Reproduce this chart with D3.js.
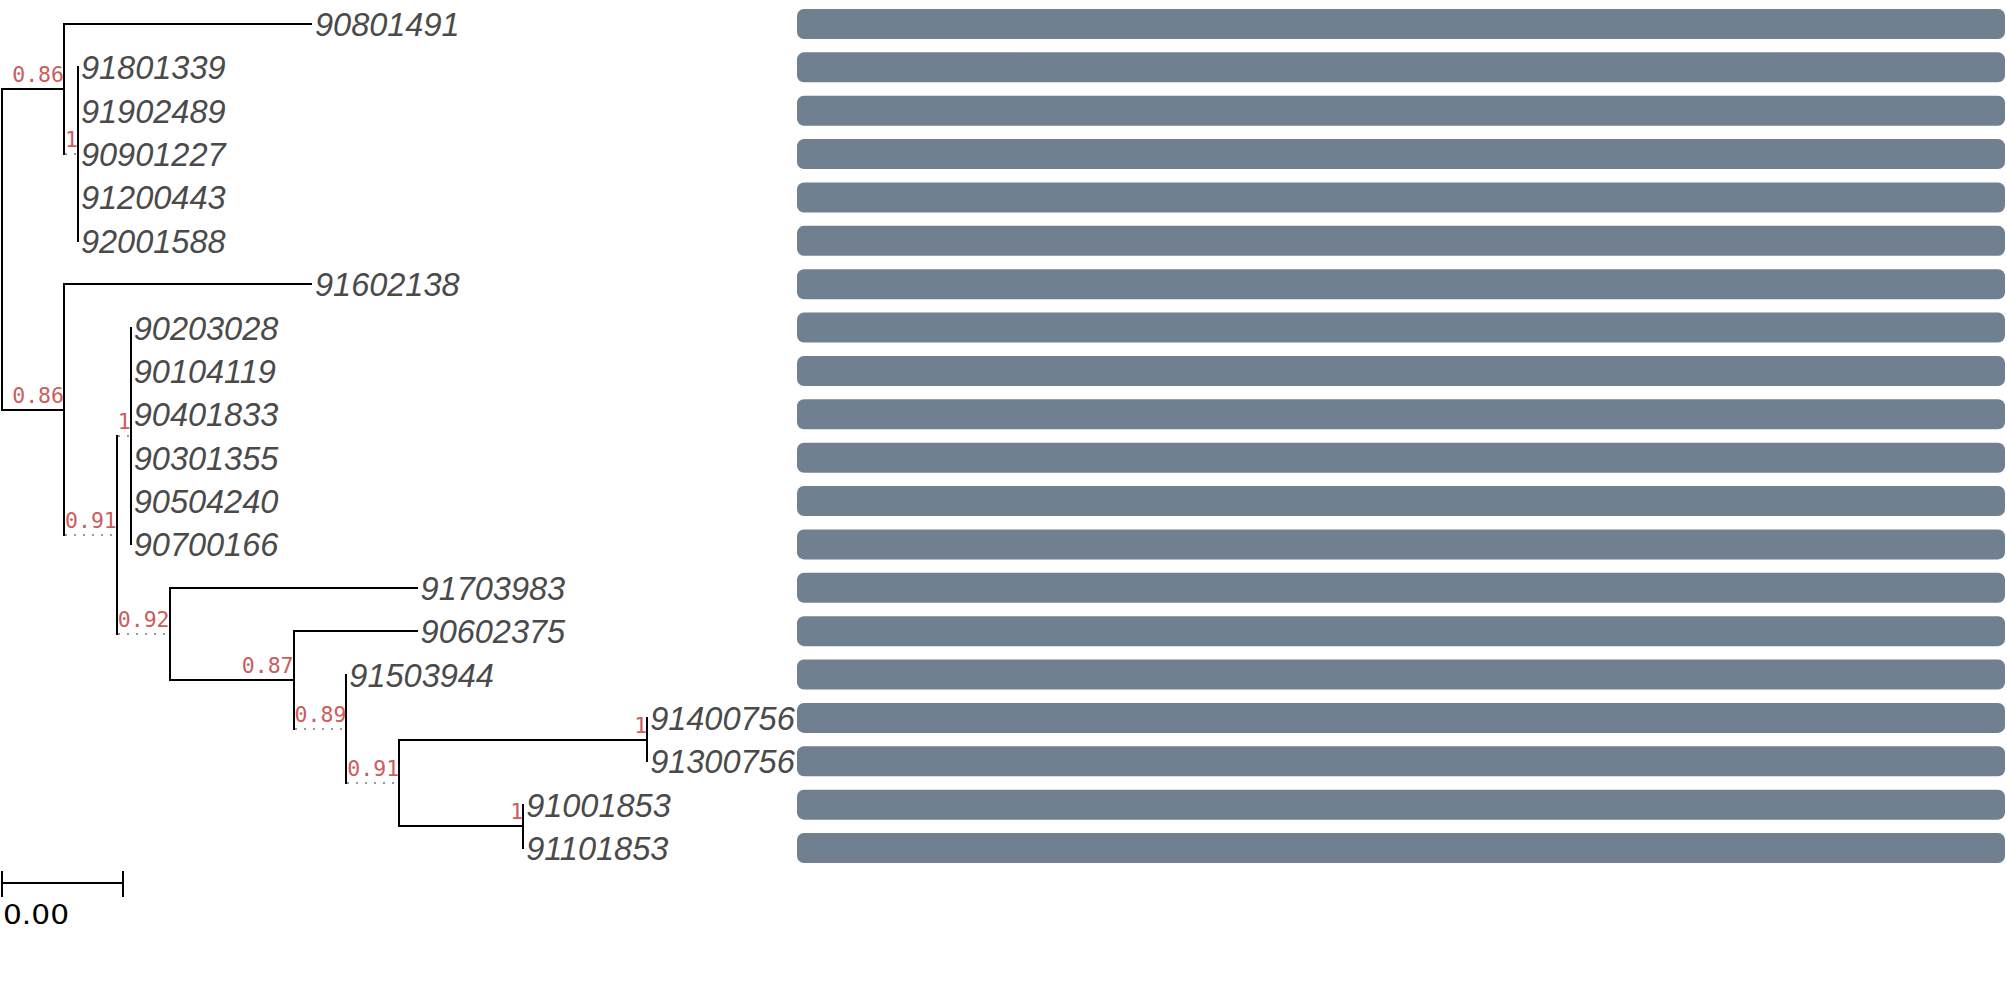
<!DOCTYPE html>
<html>
<head>
<meta charset="utf-8">
<script src="https://cdn.jsdelivr.net/npm/d3@7"></script>
<style>
  html, body { margin: 0; padding: 0; background: #fff; }
  svg { display: block; }
</style>
</head>
<body>
<svg id="chart" width="2007" height="993"></svg>
<script>
// ---- data ----
const nodeIds = ["root",
  "c1", "90801491", "s1", "91801339", "91902489", "90901227", "91200443", "92001588",
  "c2", "91602138", "A", "B", "90203028", "90104119", "90401833", "90301355", "90504240", "90700166",
  "C", "91703983", "E", "90602375", "F", "91503944", "D",
  "G", "91400756", "91300756", "H", "91001853", "91101853"];
const parentIds = ["",
  "root", "c1", "c1", "s1", "s1", "s1", "s1", "s1",
  "root", "c2", "c2", "A", "B", "B", "B", "B", "B", "B",
  "A", "C", "C", "E", "E", "F", "F",
  "D", "G", "G", "D", "H", "H"];
const branchLengths = [0,
  0.0005, 0.002, 0, 0, 0, 0, 0, 0,
  0.0005, 0.002, 0, 0, 0, 0, 0, 0, 0, 0,
  0, 0.002, 0.001, 0.001, 0, 0, 0,
  0.002, 0, 0, 0.001, 0, 0];
const supports = [null,
  0.86, null, 1, null, null, null, null, null,
  0.86, null, 0.91, 1, null, null, null, null, null, null,
  0.92, null, 0.87, null, 0.89, null, 0.91,
  1, null, null, 1, null, null];
const barValues = [1, 1, 1, 1, 1, 1, 1, 1, 1, 1, 1, 1, 1, 1, 1, 1, 1, 1, 1, 1];
const scaleBarValue = 0.000976;

// ---- setup ----
const svg = d3.select("#chart");
svg.append("rect").attr("width", 2007).attr("height", 993).attr("fill", "#fff");

const table = nodeIds.map((id, i) => ({ id, parent: parentIds[i] || null, len: branchLengths[i], support: supports[i] }));
const root = d3.stratify().id(d => d.id).parentId(d => d.parent)(table);
const leaves = root.leaves();

const xLen = d3.scaleLinear().domain([0, 0.001]).range([0, 124]);
const y = d3.scaleLinear().domain([0, leaves.length - 1]).range([24, 848]);
const xBar = d3.scaleLinear().domain([0, 1]).range([797, 2005]);

const supFont = "'DejaVu Sans Mono', monospace";
const supSize = 21.5;
const fmtSup = v => (v === 1 ? "1" : d3.format(".2f")(v));

// measure support label widths
const meas = svg.append("text").attr("font-family", supFont).attr("font-size", supSize).attr("visibility", "hidden");
function measure(t) { meas.text(t); return meas.node().getComputedTextLength(); }

const x0 = 2;
root.eachBefore(n => {
  if (!n.parent) { n.x = x0; n.xs = x0; return; }
  const lp = xLen(n.data.len);
  const ext = n.data.support != null ? measure(fmtSup(n.data.support)) + 1 : 0;
  n.xs = n.parent.x + lp;
  n.x = n.parent.x + Math.max(lp, ext);
});
meas.remove();
leaves.forEach((l, i) => { l.y = y(i); l.row = i; });
root.eachAfter(n => {
  if (n.children) n.y = (n.children[0].y + n.children[n.children.length - 1].y) / 2;
});

// ---- bars ----
svg.append("g").selectAll("rect").data(leaves).join("rect")
  .attr("x", xBar(0))
  .attr("y", d => d.y - 15)
  .attr("width", d => xBar(barValues[d.row]) - xBar(0))
  .attr("height", 30)
  .attr("rx", 7).attr("ry", 7)
  .attr("fill", "#708090");

// ---- tree lines ----
const gTree = svg.append("g").attr("shape-rendering", "crispEdges");
const nodes = root.descendants();
// horizontal solid
gTree.selectAll("line.h").data(nodes.filter(n => n.parent && n.xs > n.parent.x)).join("line")
  .attr("class", "h")
  .attr("x1", d => d.parent.x).attr("x2", d => d.xs)
  .attr("y1", d => d.y).attr("y2", d => d.y)
  .attr("stroke", "#000").attr("stroke-width", 2);
// dotted extensions
gTree.selectAll("line.d").data(nodes.filter(n => n.parent && n.x > n.xs + 0.5)).join("line")
  .attr("class", "d")
  .attr("x1", d => d.xs + 1).attr("x2", d => d.x)
  .attr("y1", d => d.y).attr("y2", d => d.y)
  .attr("stroke", "#999").attr("stroke-width", 2)
  .attr("stroke-dasharray", "2,7");
// vertical
gTree.selectAll("line.v").data(nodes.filter(n => n.children)).join("line")
  .attr("class", "v")
  .attr("x1", d => d.x).attr("x2", d => d.x)
  .attr("y1", d => d.children[0].y - 1).attr("y2", d => d.children[d.children.length - 1].y + 1)
  .attr("stroke", "#000").attr("stroke-width", 2);

// ---- support labels ----
svg.append("g").selectAll("text").data(nodes.filter(n => n.data.support != null)).join("text")
  .attr("x", d => d.x)
  .attr("y", d => d.y - 7)
  .attr("text-anchor", "end")
  .attr("font-family", supFont)
  .attr("font-size", supSize)
  .attr("fill", "#cd5c5c")
  .text(d => fmtSup(d.data.support));

// ---- leaf labels ----
svg.append("g").selectAll("text").data(leaves).join("text")
  .attr("x", d => d.x + 3)
  .attr("y", d => d.y + 12)
  .attr("font-family", "'Liberation Sans', Arial, sans-serif")
  .attr("font-style", "italic")
  .attr("font-size", 32.5)
  .attr("fill", "#4a4a4a")
  .text(d => d.id);

// ---- scale bar ----
const sb = svg.append("g").attr("shape-rendering", "crispEdges");
const sbX1 = x0, sbX2 = x0 + xLen(scaleBarValue), sbY = 883;
sb.append("line").attr("x1", sbX1).attr("x2", sbX2).attr("y1", sbY).attr("y2", sbY).attr("stroke", "#000").attr("stroke-width", 2);
[sbX1, sbX2].forEach(xx => sb.append("line").attr("x1", xx).attr("x2", xx).attr("y1", sbY - 12).attr("y2", sbY + 14).attr("stroke", "#000").attr("stroke-width", 2));
svg.append("text").attr("x", 3).attr("y", 924)
  .attr("font-family", "'DejaVu Sans', sans-serif").attr("font-size", 27).attr("fill", "#000")
  .attr("textLength", 66).attr("lengthAdjust", "spacingAndGlyphs")
  .text(d3.format(".2f")(scaleBarValue));
</script>
</body>
</html>
